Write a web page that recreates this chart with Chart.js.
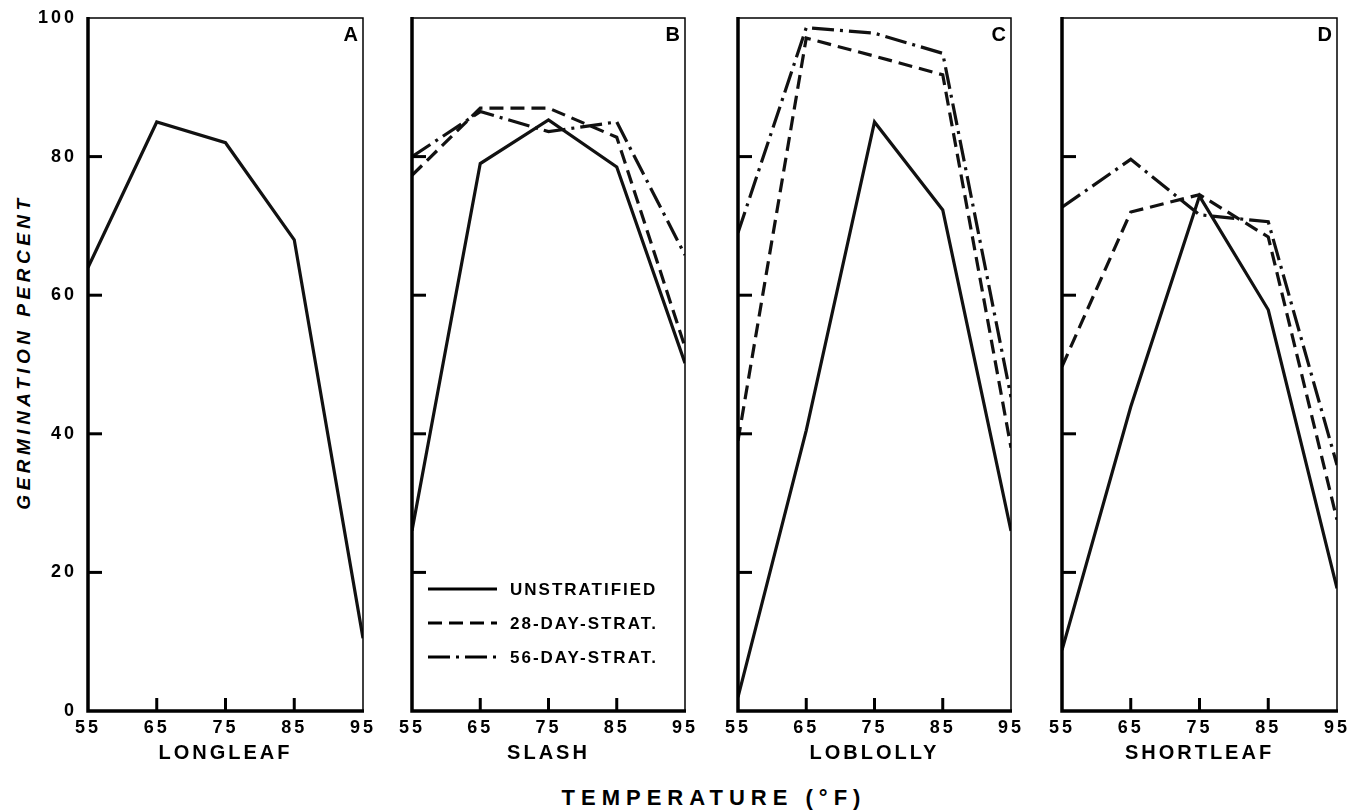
<!DOCTYPE html>
<html>
<head>
<meta charset="utf-8">
<title>Germination percent by temperature</title>
<script src="https://cdn.jsdelivr.net/npm/chart.js@4.4.0/dist/chart.umd.min.js"></script>
<style>
  body { margin: 0; background: #fff; width: 1356px; height: 811px; position: relative; overflow: hidden;
         font-family: "Liberation Sans", Arial, sans-serif; color: #000; }
  canvas { position: absolute; top: 0; }
  #yTitle { position: absolute; left: 24px; top: 352px; transform: translate(-50%, -50%) rotate(-90deg);
            font-style: italic; font-weight: bold; font-size: 19px; letter-spacing: 4.5px; white-space: nowrap; }
  #xTitle { position: absolute; left: 714px; top: 798px; transform: translate(-50%, -50%);
            font-weight: bold; font-size: 22px; letter-spacing: 6px; white-space: nowrap; }
</style>
</head>
<body>
<div id="yTitle">GERMINATION PERCENT</div>
<div id="xTitle">TEMPERATURE (°F)</div>
<canvas id="chartA"></canvas>
<canvas id="chartB"></canvas>
<canvas id="chartC"></canvas>
<canvas id="chartD"></canvas>
<script>
// data
const temps = [55, 65, 75, 85, 95];
const yTickValues = [0, 20, 40, 60, 80, 100];
const seriesNames = ["UNSTRATIFIED", "28-DAY-STRAT.", "56-DAY-STRAT."];

const longleafUnstrat = [64, 85, 82, 68, 10.5];

const slashUnstrat = [26, 79, 85.3, 78.5, 50.2];
const slash28 = [77.3, 87, 87, 82.8, 52.5];
const slash56 = [80, 86.5, 83.6, 85, 65.8];

const loblollyUnstrat = [2, 40.5, 85, 72.3, 26];
const loblolly28 = [39, 97.1, 94.5, 91.8, 38];
const loblolly56 = [69, 98.6, 97.8, 94.9, 45.3];

const shortleafUnstrat = [8.8, 43.9, 74.3, 57.9, 17.7];
const shortleaf28 = [49.7, 72, 74.5, 68.4, 27.6];
const shortleaf56 = [72.7, 79.6, 71.6, 70.6, 35.5];

// layout
const FONT = '"Liberation Sans", Arial, sans-serif';
const plotTop = 18, plotBottom = 711, canvasH = 780, xAxisH = 60, rightPad = 18;
const dashes = [[], [14, 7], [22, 6, 3, 6]];

const panels = [
  { id: "chartA", letter: "A", name: "LONGLEAF", left: 88, right: 363, axisW: 88, series: [longleafUnstrat] },
  { id: "chartB", letter: "B", name: "SLASH", left: 412, right: 685, axisW: 26, series: [slashUnstrat, slash28, slash56], legend: true },
  { id: "chartC", letter: "C", name: "LOBLOLLY", left: 738, right: 1011, axisW: 26, series: [loblollyUnstrat, loblolly28, loblolly56] },
  { id: "chartD", letter: "D", name: "SHORTLEAF", left: 1062, right: 1337, axisW: 26, series: [shortleafUnstrat, shortleaf28, shortleaf56] },
];

// frame, inward ticks, panel letter, legend
const framePlugin = {
  id: "frame",
  beforeUpdate(chart) { chart.ctx.letterSpacing = "3px"; },
  beforeDraw(chart) { chart.ctx.letterSpacing = "3px"; },
  afterDatasetsDraw(chart, args, opts) {
    const ctx = chart.ctx;
    const a = chart.chartArea;
    const xs = chart.scales.x, ys = chart.scales.y;
    ctx.save();
    ctx.strokeStyle = "#000";
    ctx.lineCap = "butt";

    // thin top and right
    ctx.lineWidth = 1.5;
    ctx.beginPath();
    ctx.moveTo(a.left, a.top);
    ctx.lineTo(a.right, a.top);
    ctx.lineTo(a.right, a.bottom);
    ctx.stroke();

    // heavy left and bottom
    ctx.lineWidth = 3.5;
    ctx.beginPath();
    ctx.moveTo(a.left, a.top - 1);
    ctx.lineTo(a.left, a.bottom);
    ctx.lineTo(a.right + 1, a.bottom);
    ctx.stroke();

    // ticks pointing inward
    ctx.lineWidth = 3;
    xs.ticks.forEach((t, i) => {
      if (i === 0 || i === xs.ticks.length - 1) return;
      const px = xs.getPixelForValue(t.value);
      ctx.beginPath();
      ctx.moveTo(px, a.bottom);
      ctx.lineTo(px, a.bottom - 13);
      ctx.stroke();
    });
    ys.ticks.forEach((t, i) => {
      if (i === 0 || i === ys.ticks.length - 1) return;
      const py = ys.getPixelForValue(t.value);
      ctx.beginPath();
      ctx.moveTo(a.left, py);
      ctx.lineTo(a.left + 14, py);
      ctx.stroke();
    });

    // panel letter
    ctx.fillStyle = "#000";
    ctx.letterSpacing = "0px";
    ctx.font = "bold 20px " + FONT;
    ctx.textAlign = "right";
    ctx.textBaseline = "top";
    ctx.fillText(opts.letter, a.right - 5, a.top + 7);

    // legend in the lower part of the panel
    if (opts.legend) {
      ctx.font = "bold 17px " + FONT;
      ctx.letterSpacing = "2px";
      ctx.textAlign = "left";
      ctx.textBaseline = "middle";
      chart.data.datasets.forEach((ds, i) => {
        const y = a.bottom - 122 + i * 34;
        ctx.lineWidth = ds.borderWidth;
        ctx.setLineDash(ds.borderDash);
        ctx.beginPath();
        ctx.moveTo(a.left + 16, y);
        ctx.lineTo(a.left + 85, y);
        ctx.stroke();
        ctx.setLineDash([]);
        ctx.fillText(ds.label, a.left + 98, y + 1);
      });
    }
    ctx.restore();
  }
};

panels.forEach((p, idx) => {
  const canvas = document.getElementById(p.id);
  const cLeft = p.left - p.axisW;
  const cWidth = p.right + rightPad - cLeft;
  canvas.width = cWidth;
  canvas.height = canvasH;
  canvas.style.left = cLeft + "px";

  const datasets = p.series.map((vals, i) => ({
    label: seriesNames[i],
    data: temps.map((t, j) => ({ x: t, y: vals[j] })),
    borderColor: "#111",
    borderWidth: 3.2,
    borderDash: dashes[i],
    pointRadius: 0,
    tension: 0,
    fill: false,
  }));

  new Chart(canvas, {
    type: "line",
    data: { datasets },
    plugins: [framePlugin],
    options: {
      responsive: false,
      animation: false,
      events: [],
      layout: { padding: { top: plotTop, right: rightPad, bottom: canvasH - plotBottom - xAxisH, left: 0 } },
      plugins: {
        legend: { display: false },
        tooltip: { enabled: false },
        frame: { letter: p.letter, legend: !!p.legend },
      },
      scales: {
        x: {
          type: "linear",
          min: temps[0],
          max: temps[temps.length - 1],
          afterBuildTicks(s) { s.ticks = temps.map(v => ({ value: v })); },
          afterFit(s) { s.height = xAxisH; s.paddingLeft = 0; s.paddingRight = 0; },
          ticks: { color: "#000", padding: 6, maxRotation: 0, autoSkip: false, font: { size: 18, weight: "bold", family: FONT } },
          grid: { display: false, drawTicks: false },
          border: { display: false },
          title: { display: true, text: p.name, color: "#000", font: { size: 20, weight: "bold", family: FONT }, padding: { top: 0, bottom: 6 } },
        },
        y: {
          type: "linear",
          min: 0,
          max: 100,
          afterBuildTicks(s) { s.ticks = yTickValues.map(v => ({ value: v })); },
          afterFit(s) { s.width = p.axisW; s.paddingTop = 0; s.paddingBottom = 0; },
          ticks: { display: idx === 0, color: "#000", padding: 11, font: { size: 18, weight: "bold", family: FONT } },
          grid: { display: false, drawTicks: false },
          border: { display: false },
        },
      },
    },
  });
});
</script>
</body>
</html>
